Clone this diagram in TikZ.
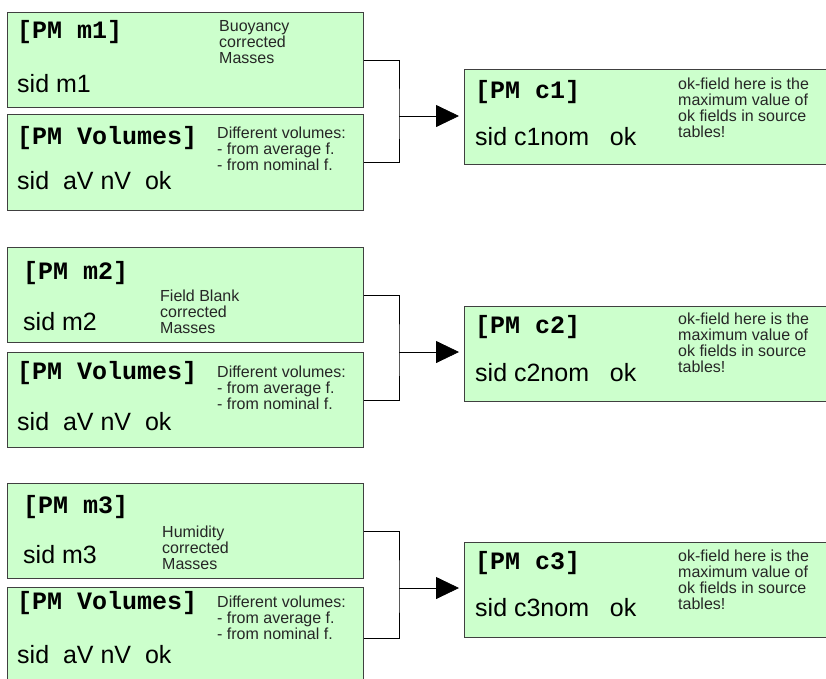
\documentclass[tikz,border=0pt]{standalone}
\usepackage{fontspec}
\setmainfont{Liberation Sans}
\setmonofont{Liberation Mono}
\usetikzlibrary{arrows.meta}

\definecolor{pmgreen}{HTML}{CCFFCC}

\begin{document}
\begin{tikzpicture}[x=1pt, y=-1pt,
    table/.style={rectangle, draw=black!75, line width=0.9pt, fill=pmgreen, inner sep=0pt, anchor=north west, minimum width=356pt, minimum height=95pt},
    head/.style={anchor=west, inner sep=0pt, font=\ttfamily\bfseries\fontsize{25}{25}\selectfont},
    field/.style={anchor=west, inner sep=0pt, font=\fontsize{25}{25}\selectfont},
    note/.style={anchor=north west, inner sep=0pt, align=left, text=black!85, font=\fontsize{16}{16}\selectfont},
    bracket/.style={line width=0.8pt},
    feed/.style={line width=0.8pt, shorten >=5pt, -{Triangle[length=23pt, width=22pt]}}]
    \useasboundingbox (0,0) rectangle (826,678);
    \clip (0,0) rectangle (826,678);

    % first group
    \node (m1) [table] at (7,12) {};
    \node (vol1) [table, minimum height=96pt] at (7,114) {};
    \node (c1) [table, minimum width=370pt] at (464,69) {};
    \node (m1h) [head] at (17,32) {[PM m1]};
    \node (m1f) [field] at (17,84) {sid m1};
    \node (m1n) [note] at (219,20) {Buoyancy\\corrected\\Masses};
    \node (vol1h) [head] at (17,138) {[PM Volumes]};
    \node (vol1f) [field] at (17,181) {sid\ \ aV nV\ \ ok};
    \node (vol1n) [note] at (217,127) {Different volumes:\\- from average f.\\- from nominal f.};
    \node (c1h) [head] at (475,92) {[PM c1]};
    \node (c1f) [field] at (475,137) {sid c1nom\ \ \ ok};
    \node (c1n) [note] at (678,78) {ok-field here is the\\maximum value of\\ok fields in source\\tables!};
    \coordinate (j1) at (399,116);
    \draw[bracket] (m1.east) -| (j1) |- (vol1.east);
    \draw[feed] (j1) -- (j1 -| c1.west);

    % second group
    \node (m2) [table] at (7,247) {};
    \node (vol2) [table] at (7,352) {};
    \node (c2) [table, minimum width=370pt] at (464,306) {};
    \node (m2h) [head] at (23,273) {[PM m2]};
    \node (m2f) [field] at (23,322) {sid m2};
    \node (m2n) [note] at (160,290) {Field Blank\\corrected\\Masses};
    \node (vol2h) [head] at (17,373) {[PM Volumes]};
    \node (vol2f) [field] at (17,422) {sid\ \ aV nV\ \ ok};
    \node (vol2n) [note] at (217,366) {Different volumes:\\- from average f.\\- from nominal f.};
    \node (c2h) [head] at (475,327) {[PM c2]};
    \node (c2f) [field] at (475,373) {sid c2nom\ \ \ ok};
    \node (c2n) [note] at (678,313) {ok-field here is the\\maximum value of\\ok fields in source\\tables!};
    \coordinate (j2) at (399,352);
    \draw[bracket] (m2.east) -| (j2) |- (vol2.east);
    \draw[feed] (j2) -- (j2 -| c2.west);

    % third group
    \node (m3) [table] at (7,483) {};
    \node (vol3) [table, minimum height=102pt] at (7,587) {};
    \node (c3) [table, minimum width=370pt] at (464,542) {};
    \node (m3h) [head] at (23,507) {[PM m3]};
    \node (m3f) [field] at (23,555) {sid m3};
    \node (m3n) [note] at (162,526) {Humidity\\corrected\\Masses};
    \node (vol3h) [head] at (17,603) {[PM Volumes]};
    \node (vol3f) [field] at (17,655) {sid\ \ aV nV\ \ ok};
    \node (vol3n) [note] at (217,596) {Different volumes:\\- from average f.\\- from nominal f.};
    \node (c3h) [head] at (475,563) {[PM c3]};
    \node (c3f) [field] at (475,608) {sid c3nom\ \ \ ok};
    \node (c3n) [note] at (678,550) {ok-field here is the\\maximum value of\\ok fields in source\\tables!};
    \coordinate (j3) at (399,588);
    \draw[bracket] (m3.east) -| (j3) |- (vol3.east);
    \draw[feed] (j3) -- (j3 -| c3.west);
\end{tikzpicture}
\end{document}
